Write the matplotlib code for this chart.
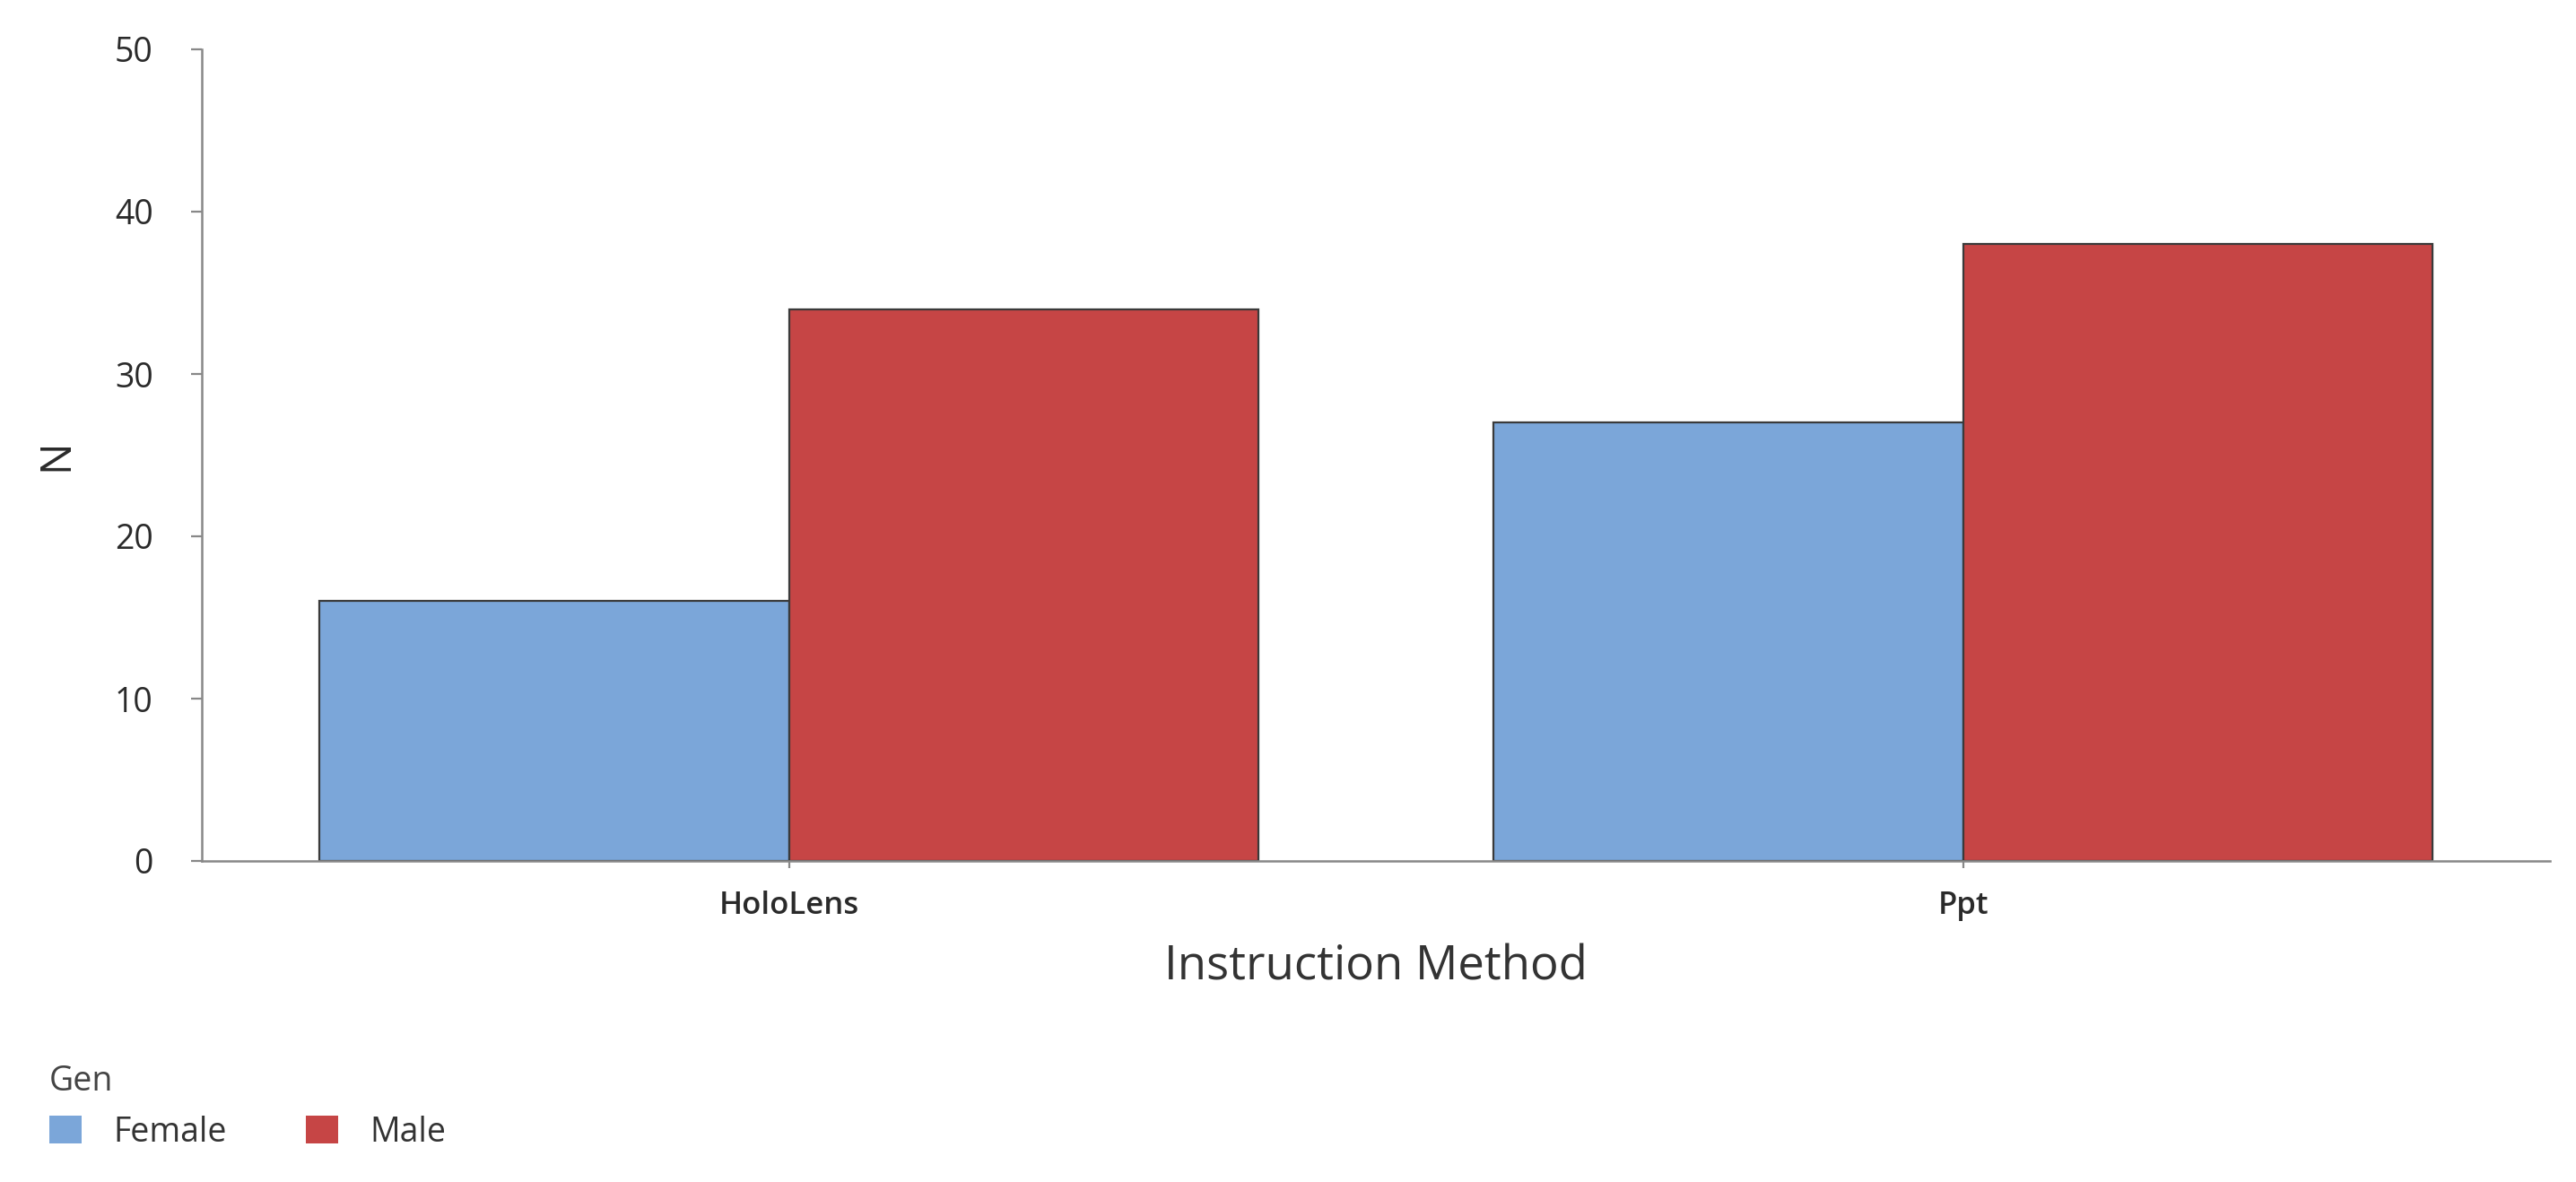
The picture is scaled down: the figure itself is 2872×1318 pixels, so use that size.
import matplotlib
matplotlib.use("Agg")
import matplotlib.pyplot as plt
import numpy as np
from matplotlib.patches import Patch

categories = ["HoloLens", "Ppt"]
series_names = ["Female", "Male"]
female = [16, 27]
male = [34, 38]
yticks = [0, 10, 20, 30, 40, 50]

colors = {"Female": "#7ba6d9", "Male": "#c64545"}
plt.rcParams['font.family'] = ['Open Sans', 'DejaVu Sans']

W, H = 2872, 1318
fig = plt.figure(figsize=(W / 100, H / 100), dpi=100)
ax = fig.add_axes([225 / W, 1 - 960 / H, (2843 - 225) / W, (960 - 55) / H])

x = np.arange(len(categories))
bw = 0.4
ax.bar(x - bw / 2, female, width=bw, color=colors["Female"], edgecolor="#3a3a3a", linewidth=1.6, label="Female")
ax.bar(x + bw / 2, male, width=bw, color=colors["Male"], edgecolor="#3a3a3a", linewidth=1.6, label="Male")

ax.set_xlim(-0.5, 1.5)
ax.set_ylim(0, 50)
ax.set_yticks(yticks)
ax.set_xticks(x)
ax.set_xticklabels(categories, fontsize=25, fontweight="semibold", color="#2a2a2a")
ax.tick_params(axis="y", labelsize=27, labelcolor="#2a2a2a", length=9, width=1.6, color="#888888", pad=30)
ax.tick_params(axis="x", length=6, width=1.6, color="#888888", pad=18)
for s in ["top", "right"]:
    ax.spines[s].set_visible(False)
for s in ["left", "bottom"]:
    ax.spines[s].set_color("#888888")
    ax.spines[s].set_linewidth(1.8)

ax.set_xlabel("Instruction Method", fontsize=38, color="#333333", labelpad=18)
ax.set_ylabel("N", fontsize=34, color="#2a2a2a", labelpad=30)

handles = [Patch(facecolor=colors[n], edgecolor="none") for n in series_names]
leg = fig.legend(handles, series_names, loc="upper left", bbox_to_anchor=(40 / W, 1 - 1172 / H),
                 ncol=2, frameon=False, title="Gen", fontsize=27, title_fontsize=27,
                 handlelength=0.95, handleheight=0.9, handletextpad=0.95, columnspacing=2.35,
                 alignment="left", borderaxespad=0)
for t in leg.get_texts():
    t.set_color("#333333")
leg.get_title().set_color("#444444")

fig.savefig("out.png", dpi=100, facecolor="white")
